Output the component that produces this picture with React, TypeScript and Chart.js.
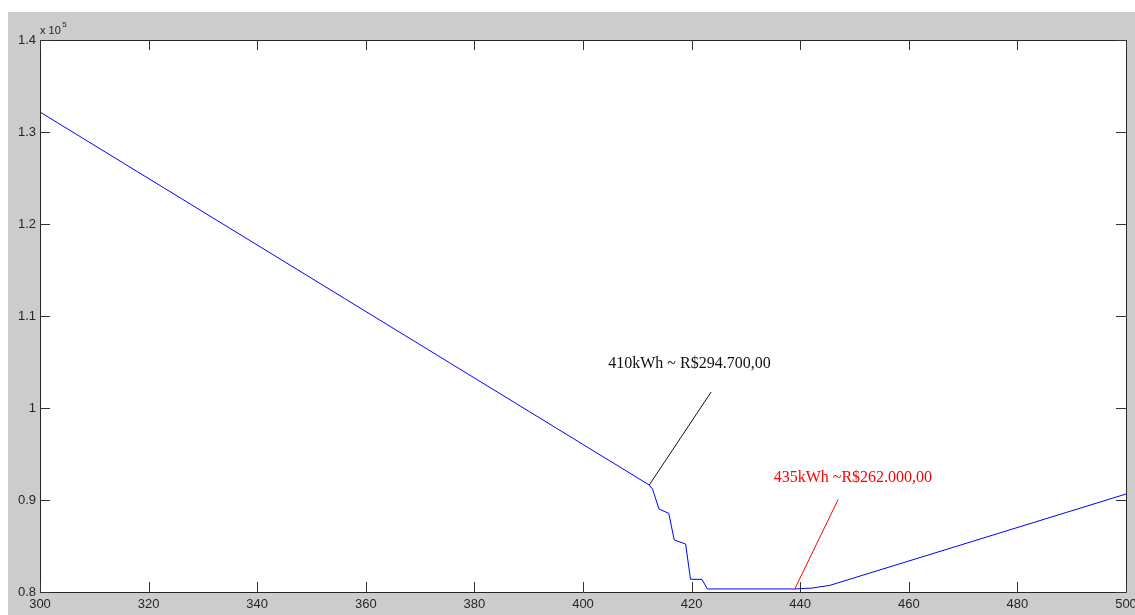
import React, { useEffect, useRef } from "react";
import { Chart, registerables } from "chart.js";

Chart.register(...registerables);

// Series: energy (kWh) vs cost (R$)
const xValues = [300, 412.2, 412.8, 414.0, 415.8, 416.8, 418.9, 419.8, 421.9, 422.9, 439.0, 442.2, 445.5, 500];
const yValues = [132170, 91630, 91200, 89020, 88550, 85650, 85220, 81380, 81380, 80330, 80330, 80430, 80730, 90650];

// Axis ranges / ticks
const xMin = 300;
const xMax = 500;
const xStep = 20;
const yMin = 80000;
const yMax = 140000;
const yStep = 10000;
const yExponentBase = "x 10";
const yExponent = "5";

// Annotations (data coordinates)
const annotationTexts = ["410kWh ~ R$294.700,00", "435kWh ~R$262.000,00"];
const annotationColors = ["#111111", "#ff0000"];
const annotationLineFrom = [[412.2, 91630], [439.0, 80330]];
const annotationLineTo = [[423.6, 101740], [447.0, 90070]];
const annotationTextAt = [[419.6, 104780], [449.7, 92400]];

const matlabPlugin = {
  id: "matlabStyle",
  beforeDraw(chart: any) {
    const { ctx, chartArea } = chart;
    const { left, top, right, bottom } = chartArea;
    ctx.save();
    ctx.fillStyle = "#ffffff";
    ctx.fillRect(left, top, right - left, bottom - top);
    ctx.restore();
  },
  afterDraw(chart: any) {
    const { ctx, chartArea, scales } = chart;
    const { left, top, right, bottom } = chartArea;
    const xs = scales.x;
    const ys = scales.y;
    ctx.save();
    // annotations
    for (let i = 0; i < annotationTexts.length; i++) {
      const [x1, y1] = annotationLineFrom[i];
      const [x2, y2] = annotationLineTo[i];
      ctx.strokeStyle = annotationColors[i];
      ctx.lineWidth = 1;
      ctx.beginPath();
      ctx.moveTo(xs.getPixelForValue(x1), ys.getPixelForValue(y1));
      ctx.lineTo(xs.getPixelForValue(x2), ys.getPixelForValue(y2));
      ctx.stroke();
      const [tx, ty] = annotationTextAt[i];
      ctx.fillStyle = annotationColors[i];
      ctx.font = '16px "Liberation Serif", "Times New Roman", serif';
      ctx.textAlign = "center";
      ctx.textBaseline = "middle";
      ctx.fillText(annotationTexts[i], xs.getPixelForValue(tx), ys.getPixelForValue(ty));
    }
    // box
    ctx.strokeStyle = "#262626";
    ctx.lineWidth = 1;
    ctx.beginPath();
    ctx.rect(left + 0.5, top + 0.5, right - left, bottom - top);
    ctx.stroke();
    // inward ticks
    const tl = 10;
    ctx.strokeStyle = "#333333";
    ctx.beginPath();
    xs.ticks.forEach((t: any) => {
      const px = Math.round(xs.getPixelForValue(t.value)) + 0.5;
      ctx.moveTo(px, bottom);
      ctx.lineTo(px, bottom - tl);
      ctx.moveTo(px, top);
      ctx.lineTo(px, top + tl);
    });
    ys.ticks.forEach((t: any) => {
      const py = Math.round(ys.getPixelForValue(t.value)) + 0.5;
      ctx.moveTo(left, py);
      ctx.lineTo(left + tl, py);
      ctx.moveTo(right, py);
      ctx.lineTo(right - tl, py);
    });
    ctx.stroke();
    // exponent label
    ctx.fillStyle = "#222222";
    ctx.textAlign = "left";
    ctx.textBaseline = "alphabetic";
    ctx.font = '11px "Liberation Sans", Arial, sans-serif';
    ctx.fillText(yExponentBase, left, top - 6.5);
    const w = ctx.measureText(yExponentBase).width;
    ctx.font = '8px "Liberation Sans", Arial, sans-serif';
    ctx.fillText(yExponent, left + w + 1.5, top - 13.5);
    ctx.restore();
  },
};

export default function App() {
  const canvasRef = useRef<HTMLCanvasElement | null>(null);

  useEffect(() => {
    if (!canvasRef.current) return;
    const points = xValues.map((x, i) => ({ x, y: yValues[i] }));
    const tickFont = { family: '"Liberation Sans", Arial, sans-serif', size: 13 };
    const chart = new Chart(canvasRef.current, {
      type: "line",
      data: {
        datasets: [
          {
            data: points,
            borderColor: "#0000ff",
            borderWidth: 1,
            pointRadius: 0,
            tension: 0,
            fill: false,
          },
        ],
      },
      options: {
        animation: false,
        responsive: false,
        maintainAspectRatio: false,
        layout: { padding: { left: 0, right: 9, top: 28, bottom: 0 } },
        plugins: { legend: { display: false }, tooltip: { enabled: false } },
        scales: {
          x: {
            type: "linear",
            min: xMin,
            max: xMax,
            grid: { display: false, drawTicks: false },
            border: { display: false },
            ticks: {
              stepSize: xStep,
              padding: 5,
              color: "#262626",
              font: tickFont,
              maxRotation: 0,
              autoSkip: false,
              callback: (v: any) => String(v),
            },
            afterFit: (s: any) => {
              s.height = 23;
              s.paddingLeft = 0;
              s.paddingRight = 0;
            },
          },
          y: {
            type: "linear",
            min: yMin,
            max: yMax,
            grid: { display: false, drawTicks: false },
            border: { display: false },
            ticks: {
              stepSize: yStep,
              padding: 4,
              color: "#262626",
              font: tickFont,
              callback: (v: any) => String(Math.round(Number(v) / 1e4) / 10),
            },
            afterFit: (s: any) => {
              s.width = 32;
              s.paddingTop = 0;
              s.paddingBottom = 0;
            },
          },
        },
      },
      plugins: [matlabPlugin],
    });
    return () => chart.destroy();
  }, []);

  return (
    <div
      style={{
        position: "fixed",
        left: 8,
        top: 12,
        width: 1127,
        height: 603,
        background: "#cccccc",
      }}
    >
      <canvas ref={canvasRef} width={1127} height={603} style={{ display: "block" }} />
    </div>
  );
}
